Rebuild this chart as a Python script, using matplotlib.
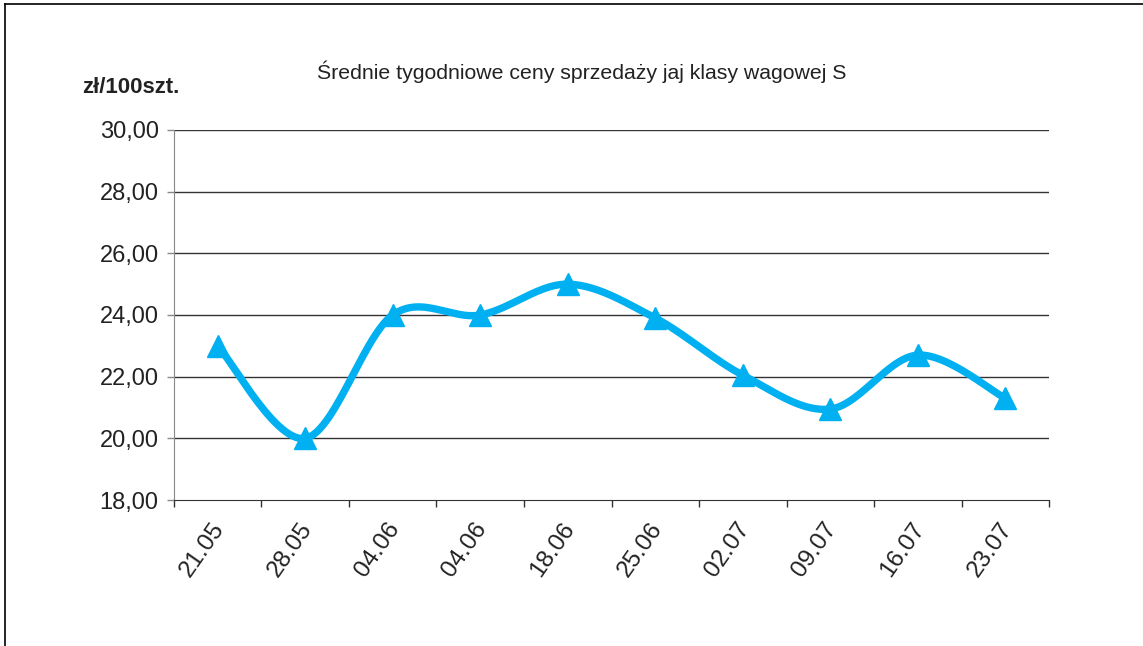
import numpy as np
import matplotlib
matplotlib.use('Agg')
import matplotlib.pyplot as plt
import matplotlib.transforms as mtransforms
from matplotlib.lines import Line2D

plt.rcParams['font.family'] = ['Liberation Sans', 'DejaVu Sans']

# data
weeks = ['21.05', '28.05', '04.06', '04.06', '18.06', '25.06', '02.07', '09.07', '16.07', '23.07']
prices = [23.0, 20.0, 24.0, 24.0, 25.0, 23.9, 22.05, 20.95, 22.7, 21.3]
yticks = [18, 20, 22, 24, 26, 28, 30]

title = 'Średnie tygodniowe ceny sprzedaży jaj klasy wagowej S'
unit = 'zł/100szt.'
blue = '#00B0F0'


def smooth(x, y, n=30):
    # Excel-like smoothed line (cubic bezier through the points)
    x = np.asarray(x, float); y = np.asarray(y, float)
    px = np.concatenate([[x[0]], x, [x[-1]]])
    py = np.concatenate([[y[0]], y, [y[-1]]])
    xs, ys = [], []
    t = np.linspace(0, 1, n)
    for i in range(1, len(px) - 2):
        p0 = np.array([px[i], py[i]]); p3 = np.array([px[i + 1], py[i + 1]])
        c1 = p0 + (np.array([px[i + 1], py[i + 1]]) - np.array([px[i - 1], py[i - 1]])) / 6
        c2 = p3 - (np.array([px[i + 2], py[i + 2]]) - np.array([px[i], py[i]])) / 6
        b = ((1 - t) ** 3)[:, None] * p0 + (3 * (1 - t) ** 2 * t)[:, None] * c1 \
            + (3 * (1 - t) * t ** 2)[:, None] * c2 + (t ** 3)[:, None] * p3
        xs.extend(b[:, 0]); ys.extend(b[:, 1])
    return np.array(xs), np.array(ys)


fig = plt.figure(figsize=(11.43, 6.46), dpi=100)
ax = fig.add_axes([0.1522, 0.226, 0.7656, 0.5728])

x = np.arange(len(weeks))
sx, sy = smooth(x, prices)
ax.plot(sx, sy, color=blue, lw=5.3, solid_capstyle='round', zorder=3)
ax.plot(x, prices, linestyle='none', marker='^', markersize=15.5, color=blue, zorder=4)

ax.set_xlim(-0.5, len(weeks) - 0.5)
ax.set_ylim(18, 30)
ax.set_yticks(yticks)
ax.set_yticklabels([('%.2f' % v).replace('.', ',') for v in yticks])
for v in yticks[1:]:
    ax.axhline(v, color='#333333', lw=1, zorder=1)

ax.set_xticks(np.arange(len(weeks) + 1) - 0.5)
ax.set_xticklabels([])
ax.set_xticks(x, minor=True)
ax.set_xticklabels(weeks, minor=True, rotation=55, ha='right', va='top',
                   rotation_mode='anchor', fontsize=17.5, color='#222222')
ax.tick_params(axis='x', which='minor', length=0, pad=13)
ax.tick_params(axis='x', which='major', length=5, width=1, color='#333333')
ax.tick_params(axis='y', length=5, width=1, color='#888888', labelsize=17,
               labelcolor='#222222', pad=6)
shift = mtransforms.ScaledTranslation(-7 / 100, 0, fig.dpi_scale_trans)
for lab in ax.get_xticklabels(minor=True):
    lab.set_transform(lab.get_transform() + shift)

for s in ['top', 'right']:
    ax.spines[s].set_visible(False)
ax.spines['left'].set_color('#888888')
ax.spines['bottom'].set_color('#333333')

fig.text(0.509, 0.889, title, ha='center', va='center', fontsize=15.3, color='#222222')
fig.text(0.072, 0.864, unit, ha='left', va='center', fontsize=16, fontweight='bold', color='#222222')

# outer frame (only top and left edges visible)
fig.add_artist(Line2D([5 / 1143, 5 / 1143], [0, 1 - 4 / 646], transform=fig.transFigure, color='black', lw=1.2))
fig.add_artist(Line2D([5 / 1143, 1], [1 - 4 / 646, 1 - 4 / 646], transform=fig.transFigure, color='black', lw=1.2))

fig.savefig('out.png', dpi=100)
